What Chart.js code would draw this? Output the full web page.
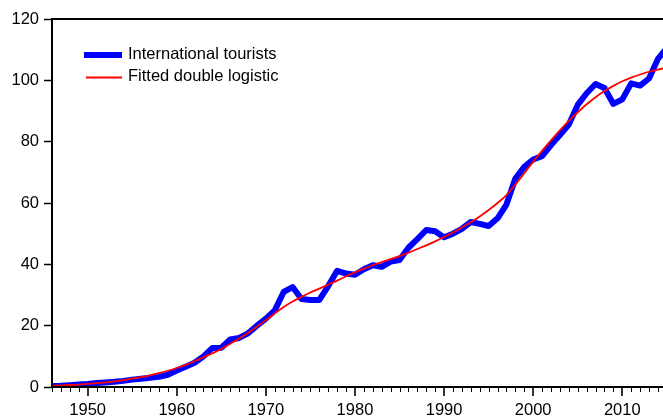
<!DOCTYPE html>
<html>
<head>
<meta charset="utf-8">
<script src="https://cdn.jsdelivr.net/npm/chart.js@4"></script>
<style>
  html, body { margin: 0; padding: 0; background: #fff; }
  #wrap { width: 663px; height: 420px; }
</style>
</head>
<body>
<div id="wrap"><canvas id="c" width="663" height="420"></canvas></div>
<script>
const years = [];
for (let y = 1946; y <= 2015; y++) years.push(y);

const tourists = [
  0.3, 0.4, 0.6, 0.8, 1.0, 1.3, 1.5, 1.7, 2.0, 2.4,
  2.7, 3.0, 3.3, 4.0, 5.4, 6.6, 7.9, 10.0, 12.7, 12.8,
  15.5, 16.0, 17.5, 20.0, 22.3, 25.0, 31.0, 32.6, 28.7, 28.4,
  28.4, 32.9, 37.9, 37.0, 36.6, 38.4, 39.7, 39.2, 40.9, 41.4,
  45.4, 48.2, 51.2, 50.8, 48.8, 50.0, 51.6, 53.8, 53.2, 52.5,
  55.0, 59.5, 68.0, 71.8, 74.2, 75.3, 78.9, 82.2, 85.6, 92.0,
  95.8, 98.8, 97.5, 92.3, 93.8, 99.0, 98.3, 100.6, 107.0, 110.5
];

const fitted = [
  0.4, 0.5, 0.65, 0.8, 1.0, 1.25, 1.5, 1.85, 2.25, 2.7,
  3.2, 3.8, 4.5, 5.3, 6.2, 7.2, 8.4, 9.7, 11.0, 12.4,
  14.1, 15.8, 17.6, 19.7, 21.8, 24.0, 26.1, 27.9, 29.4, 30.8,
  32.1, 33.4, 34.7, 36.1, 37.4, 38.6, 39.7, 40.7, 41.7, 42.7,
  43.8, 45.0, 46.2, 47.5, 48.9, 50.4, 52.0, 53.7, 55.6, 57.7,
  60.0, 62.6, 66.0, 69.7, 73.5, 77.0, 80.4, 83.7, 86.8, 89.6,
  92.2, 94.5, 96.5, 98.2, 99.7, 100.9, 101.9, 102.8, 103.5, 104.1
];

const seriesNames = ['International tourists', 'Fitted double logistic'];
const yTicks = [0, 20, 40, 60, 80, 100, 120];
const xLabelYears = [1950, 1960, 1970, 1980, 1990, 2000, 2010];

const FONT = "'Liberation Sans', Arial, sans-serif";

const frame = {
  id: 'frame',
  afterDatasetsDraw(chart) {
    const ctx = chart.ctx;
    const a = chart.chartArea;
    const xs = chart.scales.x;
    ctx.save();
    ctx.strokeStyle = '#000';
    ctx.lineWidth = 2;
    ctx.beginPath();
    ctx.moveTo(a.left, a.top);
    ctx.lineTo(a.right, a.top);
    ctx.moveTo(a.left, a.top - 1);
    ctx.lineTo(a.left, a.bottom + 1);
    ctx.moveTo(a.left - 1, a.bottom);
    ctx.lineTo(a.right, a.bottom);
    ctx.stroke();
    for (let y = 1946; y <= 2015; y++) {
      const px = Math.round(xs.getPixelForValue(y));
      if (px < a.left || px > a.right) continue;
      const major = y % 10 === 0;
      ctx.lineWidth = major ? 1.6 : 1;
      ctx.beginPath();
      ctx.moveTo(px + (major ? 0 : 0.5), a.bottom);
      ctx.lineTo(px + (major ? 0 : 0.5), a.bottom + (major ? 9 : 5));
      ctx.stroke();
    }
    const ds = chart.data.datasets;
    const rows = [
      {y: 55, x0: 84, x1: 122, ty: 54},
      {y: 77.5, x0: 86, x1: 122, ty: 76}
    ];
    ctx.font = '16.5px ' + FONT;
    ctx.textBaseline = 'middle';
    ctx.textAlign = 'left';
    ds.forEach((d, i) => {
      const r = rows[i];
      ctx.strokeStyle = d.borderColor;
      ctx.lineWidth = d.borderWidth;
      ctx.lineCap = 'butt';
      ctx.beginPath();
      ctx.moveTo(r.x0, r.y);
      ctx.lineTo(r.x1, r.y);
      ctx.stroke();
      ctx.fillStyle = '#000';
      ctx.fillText(d.label, 128, r.ty);
    });
    ctx.restore();
  }
};

new Chart(document.getElementById('c'), {
  type: 'line',
  data: {
    datasets: [
      {
        label: seriesNames[0],
        data: years.map((y, i) => ({x: y, y: tourists[i]})),
        borderColor: '#0000FF',
        borderWidth: 6,
        borderJoinStyle: 'round',
        pointRadius: 0,
        tension: 0,
        order: 2
      },
      {
        label: seriesNames[1],
        data: years.map((y, i) => ({x: y, y: fitted[i]})),
        borderColor: '#FF0000',
        borderWidth: 1.8,
        pointRadius: 0,
        tension: 0.3,
        cubicInterpolationMode: 'monotone',
        order: 1
      }
    ]
  },
  options: {
    responsive: false,
    animation: false,
    events: [],
    layout: { padding: { top: 19, right: 0, left: 0, bottom: 0 } },
    plugins: { legend: { display: false }, tooltip: { enabled: false } },
    scales: {
      x: {
        type: 'linear',
        min: 1946,
        max: 2014.57,
        afterFit(s) { s.height = 33; },
        afterBuildTicks(s) { s.ticks = xLabelYears.map(v => ({value: v})); },
        grid: { display: false, drawTicks: false },
        border: { display: false },
        ticks: {
          color: '#000',
          font: { family: FONT, size: 16.5 },
          padding: 14,
          maxRotation: 0,
          autoSkip: false,
          callback: v => String(v)
        }
      },
      y: {
        min: 0,
        max: 120,
        afterFit(s) { s.width = 52; },
        afterBuildTicks(s) { s.ticks = yTicks.map(v => ({value: v})); },
        grid: {
          display: true,
          drawOnChartArea: false,
          drawTicks: true,
          tickLength: 8,
          tickColor: '#000',
          tickWidth: 1.5
        },
        border: { display: false },
        ticks: {
          color: '#000',
          font: { family: FONT, size: 16.5 },
          padding: 5,
          callback: v => String(v)
        }
      }
    }
  },
  plugins: [frame]
});
</script>
</body>
</html>
